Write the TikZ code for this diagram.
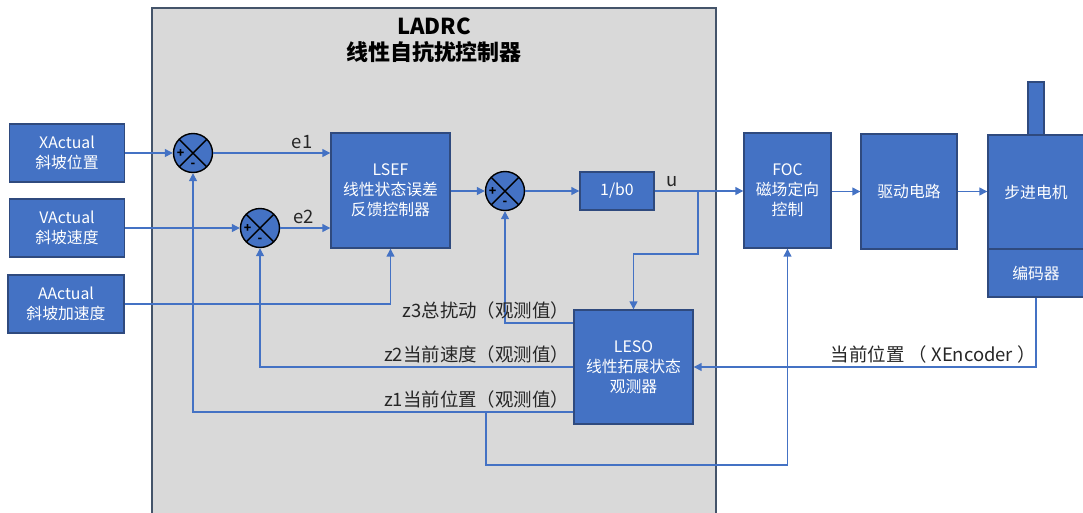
\documentclass[tikz,border=0pt]{standalone}
\usepackage{fontspec}
\setmainfont{Noto Sans CJK SC}
\usetikzlibrary{arrows.meta}
\definecolor{boxblue}{HTML}{4472C4}
\definecolor{boxedge}{HTML}{2F4A7E}
\definecolor{panelgray}{HTML}{D9D9D9}
\definecolor{paneledge}{HTML}{44546A}

\begin{document}
\begin{tikzpicture}[x=0.02cm,y=-0.02cm,
 block/.style={draw=boxedge,rectangle,fill=boxblue,text=white,align=center,line width=0.8pt,inner sep=1pt},
 sum/.style={draw=black,circle,fill=boxblue,minimum size=0.78cm,inner sep=0pt,line width=0.8pt,
  path picture={\draw[black,line width=0.8pt] (path picture bounding box.north west) -- (path picture bounding box.south east)
   (path picture bounding box.north east) -- (path picture bounding box.south west);
   \node[font=\fontsize{7}{7}\selectfont\bfseries,inner sep=0pt] at ([xshift=-0.25cm]path picture bounding box.center) {+};
   \node[font=\fontsize{7}{7}\selectfont\bfseries,inner sep=0pt] at ([yshift=-0.25cm]path picture bounding box.center) {-};}},
 flow/.style={-{Triangle[length=4.5pt,width=4.5pt]},boxblue,line width=0.7pt},
 every node/.style={font=\fontsize{9}{11.5}\selectfont},
 label/.style={text=black!85,font=\fontsize{10.5}{12}\selectfont,inner sep=2pt}]
\useasboundingbox (0,0) rectangle (1083,512);
\draw[fill=panelgray,draw=paneledge,line width=0.8pt] (152,8) rectangle (716,530);
\node[font=\fontsize{12.5}{15}\selectfont\bfseries,align=center] (title) at (434,40) {LADRC\\线性自抗扰控制器};
\node[block,minimum width=2.3cm,minimum height=1.16cm] (xact) at (67,153) {XActual\\斜坡位置};
\node[block,minimum width=2.3cm,minimum height=1.16cm] (vact) at (67,228) {VActual\\斜坡速度};
\node[block,minimum width=2.32cm,minimum height=1.16cm] (aact) at (66,304) {AActual\\斜坡加速度};
\node[sum] (s1) at (193,153) {};
\node[sum] (s2) at (260,228) {};
\node[sum] (s3) at (505,191) {};
\node[block,minimum width=2.38cm,minimum height=2.3cm] (lsef) at (390.5,190.5) {LSEF\\线性状态误差\\反馈控制器};
\node[block,minimum width=1.48cm,minimum height=0.76cm] (gain) at (617,191) {1/b0};
\node[block,minimum width=2.38cm,minimum height=2.28cm] (leso) at (633.5,367) {LESO\\线性拓展状态\\观测器};
\node[block,minimum width=1.74cm,minimum height=2.3cm] (foc) at (787.5,190.5) {FOC\\磁场定向\\控制};
\node[block,minimum width=1.92cm,minimum height=2.3cm] (drive) at (909,191.5) {驱动电路};
\node[block,minimum width=1.92cm,minimum height=2.28cm] (motor) at (1036,192) {步进电机};
\node[block,minimum width=1.92cm,minimum height=0.96cm] (enc) at (1036,273) {编码器};
\draw[draw=boxedge,fill=boxblue,line width=0.8pt] (1028,82) rectangle (1044,135);
\coordinate (ubend) at (698,254);
\coordinate (ztap) at (486,412);
\coordinate (zlow) at (486,465);
\draw[flow] (xact.east) -- (s1.west);
\draw[flow] (vact.east) -- (s2.west);
\draw[flow] (s1.east) -- node[label,pos=0.76,above]{e1} (s1.east -| lsef.west);
\draw[flow] (s2.east) -- node[label,pos=0.46,above]{e2} (s2.east -| lsef.west);
\draw[flow] (aact.east) -| (lsef.south);
\draw[flow] (lsef.east |- s3.west) -- (s3.west);
\draw[flow] (s3.east) -- (gain.west);
\draw[flow] (gain.east) -- node[label,pos=0.2,above]{u} (gain.east -| foc.west);
\draw[flow] (ubend |- gain.east) -- (ubend) -| (leso.north);
\draw[flow] ([yshift=0.88cm]leso.west) -- node[label,pos=0,above left]{z3总扰动（观测值）} ([yshift=0.88cm]leso.west -| s3.south) -- (s3.south);
\draw[flow] (leso.west) -- node[label,pos=0,above left]{z2当前速度（观测值）} (leso.west -| s2.south) -- (s2.south);
\draw[flow] ([yshift=-0.9cm]leso.west) -- node[label,pos=0,above left]{z1当前位置（观测值）} ([yshift=-0.9cm]leso.west -| s1.south) -- (s1.south);
\draw[flow] (ztap) -- (zlow) -| (foc.south);
\draw[flow] (foc.east |- drive.west) -- (drive.west);
\draw[flow] (drive.east) -- (drive.east -| motor.west);
\draw[flow] (enc.south) |- node[label,pos=0.65,above]{当前位置 （ XEncoder ）} (leso.east);
\end{tikzpicture}
\end{document}
